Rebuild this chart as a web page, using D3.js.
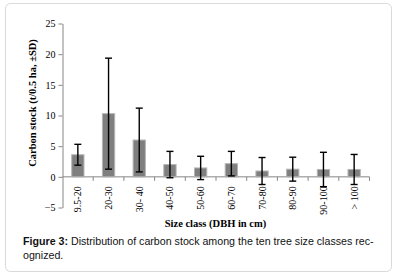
<!doctype html>
<html>
<head>
<meta charset="utf-8">
<title>Carbon stock</title>
<script src="https://cdn.jsdelivr.net/npm/d3@7"></script>
<style>
body { margin: 0; background: #fff; }
.axis text { font-family: "Liberation Serif", "Times New Roman", serif; font-size: 10px; fill: #000; }
.axis path, .axis line { stroke: #868686; }
</style>
</head>
<body>
<svg width="398" height="278"></svg>
<script>
var classes = ["9.5-20", "20-30", "30- 40", "40-50", "50-60", "60-70", "70-80", "80-90", "90-100", "> 100"];
var carbon = [3.6, 10.3, 6.0, 2.0, 1.45, 2.15, 0.95, 1.25, 1.2, 1.2];
var sd = [1.7, 9.05, 5.2, 2.15, 1.9, 2.0, 2.2, 1.95, 2.8, 2.45];
var yTicks = [-5, 0, 5, 10, 15, 20, 25];

var svg = d3.select("svg");

// frame around figure
svg.append("rect")
    .attr("x", 5.5).attr("y", 3.5)
    .attr("width", 386).attr("height", 268)
    .attr("rx", 5)
    .attr("fill", "#fff")
    .attr("stroke", "#d9d9d9");

var x = d3.scaleBand().domain(classes).range([62.5, 369.5]).paddingInner(0.6).paddingOuter(0.3);
var xb = d3.scaleBand().domain(classes).range([62.5, 369.5]);
var y = d3.scaleLinear().domain([-5, 25]).range([207.5, 23.5]);

// y axis
svg.append("g")
    .attr("class", "axis")
    .attr("transform", "translate(62.5,0)")
    .call(d3.axisLeft(y).tickValues(yTicks).tickSize(4).tickSizeOuter(0).tickPadding(3));

// x axis line at zero with ticks on band boundaries
var gx = svg.append("g").attr("class", "axis");
gx.append("line")
    .attr("x1", 62.5).attr("x2", 369.5)
    .attr("y1", y(0)).attr("y2", y(0));
var bounds = classes.map(function(c) { return xb(c); }).concat([xb.range()[1]]);
gx.selectAll(".tk").data(bounds.slice(1)).enter().append("line")
    .attr("x1", function(d) { return d; }).attr("x2", function(d) { return d; })
    .attr("y1", y(0)).attr("y2", y(0) + 4);

gx.selectAll(".lbl").data(classes).enter().append("text")
    .attr("transform", function(d) {
        return "translate(" + (xb(d) + xb.bandwidth() / 2 + 3.5) + "," + (y(0) + 9.5) + ") rotate(-90)";
    })
    .attr("text-anchor", "end")
    .text(function(d) { return d; });

// bars
svg.selectAll(".bar").data(classes).enter().append("rect")
    .attr("x", function(d) { return x(d); })
    .attr("y", function(d, i) { return y(carbon[i]); })
    .attr("width", x.bandwidth())
    .attr("height", function(d, i) { return y(0) - y(carbon[i]); })
    .attr("fill", "#7f7f7f")
    .attr("stroke", "#b5b5b5")
    .attr("stroke-width", 1);

// error bars
var eb = svg.selectAll(".err").data(classes).enter().append("g");
eb.append("line")
    .attr("x1", function(d) { return x(d) + x.bandwidth() / 2; })
    .attr("x2", function(d) { return x(d) + x.bandwidth() / 2; })
    .attr("y1", function(d, i) { return y(carbon[i] + sd[i]); })
    .attr("y2", function(d, i) { return y(carbon[i] - sd[i]); })
    .attr("stroke", "#000").attr("stroke-width", 1.4);
[1, -1].forEach(function(s) {
    eb.append("line")
        .attr("x1", function(d) { return x(d) + x.bandwidth() / 2 - 3.5; })
        .attr("x2", function(d) { return x(d) + x.bandwidth() / 2 + 3.5; })
        .attr("y1", function(d, i) { return y(carbon[i] + s * sd[i]); })
        .attr("y2", function(d, i) { return y(carbon[i] + s * sd[i]); })
        .attr("stroke", "#000").attr("stroke-width", 1.4);
});

// axis titles
svg.append("text")
    .attr("transform", "translate(36,103) rotate(-90)")
    .attr("text-anchor", "middle")
    .style("font-family", "'Liberation Serif', 'Times New Roman', serif")
    .style("font-size", "10.5px")
    .style("font-weight", "bold")
    .text("Carbon stock (t/0.5 ha, \u00b1SD)");

svg.append("text")
    .attr("x", 215.5).attr("y", 227)
    .attr("text-anchor", "middle")
    .style("font-family", "'Liberation Serif', 'Times New Roman', serif")
    .style("font-size", "10.5px")
    .style("font-weight", "bold")
    .text("Size class (DBH in cm)");

// caption, sized so the first line spans about 351px like the original
var cap = svg.append("g")
    .style("font-family", "'Liberation Sans', Arial, sans-serif")
    .style("font-size", "11px")
    .attr("fill", "#111");
var l1 = cap.append("text").attr("x", 23).attr("y", 245);
l1.append("tspan").style("font-weight", "bold").text("Figure 3:");
l1.append("tspan").text(" Distribution of carbon stock among the ten tree size classes rec-");
cap.append("text").attr("x", 23).attr("y", 259).text("ognized.");
var w = l1.node().getComputedTextLength();
if (w > 0) cap.style("font-size", (11 * 351 / w).toFixed(2) + "px");
</script>
</body>
</html>
